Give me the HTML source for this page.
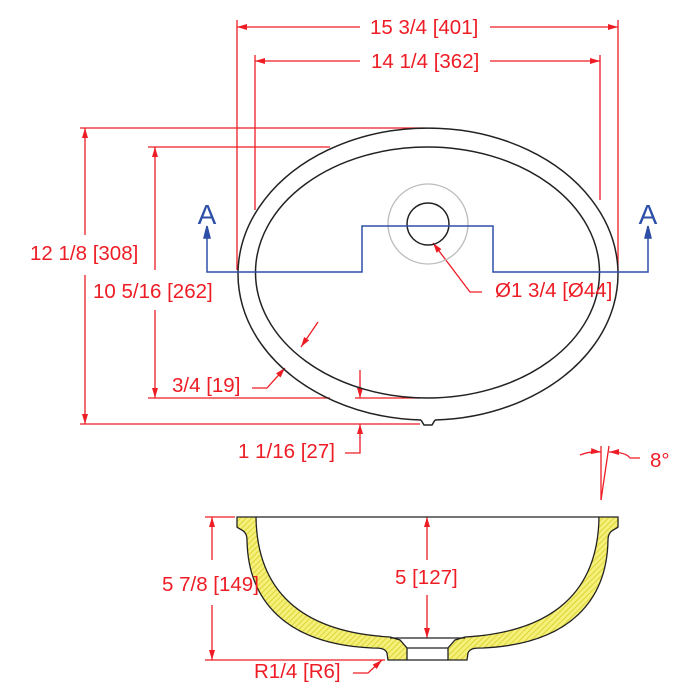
<!DOCTYPE html>
<html><head><style>
html,body{margin:0;padding:0;background:#fff}
svg{display:block}
text{font-family:"Liberation Sans",sans-serif;fill:#ee1c25;font-size:20.5px}
</style></head><body>
<svg width="700" height="700" viewBox="0 0 700 700" xmlns="http://www.w3.org/2000/svg">
<defs>
<pattern id="h" width="4" height="4" patternUnits="userSpaceOnUse" patternTransform="rotate(45)">
<rect width="4" height="4" fill="#f4f07a"/><line x1="0" y1="0" x2="0" y2="4" stroke="#d8cc20" stroke-width="1.5"/>
</pattern>
<marker id="ar" viewBox="0 0 10 6" refX="10" refY="3" markerWidth="12" markerHeight="6" markerUnits="userSpaceOnUse" orient="auto"><path d="M0,0L10,3L0,6Z" fill="#ee1c25"/></marker>
</defs>
<g stroke="#ee1c25" stroke-width="1.3" fill="none">
<line x1="237" y1="20" x2="237" y2="270"/><line x1="618" y1="20" x2="618" y2="270"/>
<line x1="255" y1="55" x2="255" y2="210"/><line x1="600" y1="55" x2="600" y2="200"/>
<line x1="360" y1="27" x2="237" y2="27" marker-end="url(#ar)"/><line x1="490" y1="27" x2="618" y2="27" marker-end="url(#ar)"/>
<line x1="360" y1="61" x2="255" y2="61" marker-end="url(#ar)"/><line x1="490" y1="61" x2="600" y2="61" marker-end="url(#ar)"/>
<line x1="80" y1="128" x2="425" y2="128"/><line x1="148" y1="147" x2="330" y2="147"/>
<line x1="85" y1="235" x2="85" y2="128" marker-end="url(#ar)"/><line x1="85" y1="275" x2="85" y2="424" marker-end="url(#ar)"/>
<line x1="155" y1="270" x2="155" y2="147" marker-end="url(#ar)"/><line x1="155" y1="310" x2="155" y2="398" marker-end="url(#ar)"/>
<line x1="148" y1="398" x2="330" y2="398"/><line x1="355" y1="398" x2="420" y2="398"/>
<line x1="80" y1="424" x2="420" y2="424"/>
<line x1="360" y1="370" x2="360" y2="398" marker-end="url(#ar)"/>
<path d="M345,453 L360,453 L360,424" marker-end="url(#ar)"/>
<path d="M252,388 L267,388 L285,368" marker-end="url(#ar)"/>
<line x1="318" y1="322" x2="301" y2="347" marker-end="url(#ar)"/>
<path d="M482,292 L470,292 L433,243" marker-end="url(#ar)"/>
<line x1="205" y1="517" x2="235" y2="517"/><line x1="205" y1="660" x2="385" y2="660"/>
<line x1="212" y1="560" x2="212" y2="517" marker-end="url(#ar)"/><line x1="212" y1="605" x2="212" y2="660" marker-end="url(#ar)"/>
<line x1="427" y1="560" x2="427" y2="517" marker-end="url(#ar)"/><line x1="427" y1="595" x2="427" y2="638" marker-end="url(#ar)"/>
<path d="M353,673 L368,673 L382,660" marker-end="url(#ar)"/>
<line x1="601" y1="446" x2="601" y2="500"/><line x1="609" y1="446" x2="601" y2="500"/>
<path d="M580,455 Q590,451 601,452" marker-end="url(#ar)"/><path d="M640,458 L630,458 Q626,452 609,452" marker-end="url(#ar)"/>
</g>
<g fill="none" stroke="#222" stroke-width="1.5">
<path d="M421,420 A190,146 0 1 1 435,420"/>
<path d="M421,420 L424,425 L432,425 L435,420"/>
<ellipse cx="427.5" cy="272.5" rx="172" ry="125.5"/>
<circle cx="428" cy="224" r="21"/>
</g>
<circle cx="428" cy="224" r="40" fill="none" stroke="#bbb" stroke-width="1.3"/>
<g stroke="#2e4fa8" stroke-width="1.5" fill="none">
<path d="M207,232 L207,272 L362,272 L362,226 L493,226 L493,272 L648,272 L648,232"/>
<path d="M204,238 L207,226 L210,238Z" fill="#2e4fa8"/><path d="M645,238 L648,226 L651,238Z" fill="#2e4fa8"/>
</g>
<text x="207" y="224" text-anchor="middle" style="fill:#2e4fa8;font-size:28px">A</text>
<text x="648" y="224" text-anchor="middle" style="fill:#2e4fa8;font-size:28px">A</text>
<g stroke="#222" stroke-width="1.3">
<path fill="url(#h)" d="M237,517 L256,517 C257,590 300,632 390,637 L400,640 L407,648 L407,660 L388,660 L387,653 C385,648 380,648 372,648 C285,644 248,600 247,540 C247,530 240,530 237,527 Z"/>
<path fill="url(#h)" d="M618,517 L599,517 C598,590 555,632 465,637 L455,640 L448,648 L448,660 L467,660 L468,653 C470,648 475,648 483,648 C570,644 607,600 608,540 C608,530 615,530 618,527 Z"/>
<line x1="256" y1="517" x2="599" y2="517"/>
<line x1="390" y1="638" x2="465" y2="638"/>
<line x1="407" y1="648" x2="448" y2="648"/>
<line x1="407" y1="660" x2="448" y2="660"/>
</g>
<text x="370" y="34">15 3/4 [401]</text>
<text x="371" y="68">14 1/4 [362]</text>
<text x="30" y="260">12 1/8 [308]</text>
<text x="93" y="298">10 5/16 [262]</text>
<text x="172" y="392">3/4 [19]</text>
<text x="238" y="458">1 1/16 [27]</text>
<text x="495" y="297">Ø1 3/4 [Ø44]</text>
<text x="162" y="591">5 7/8 [149]</text>
<text x="395" y="584">5 [127]</text>
<text x="254" y="678">R1/4 [R6]</text>
<text x="650" y="467">8°</text>
</svg>
</body></html>
